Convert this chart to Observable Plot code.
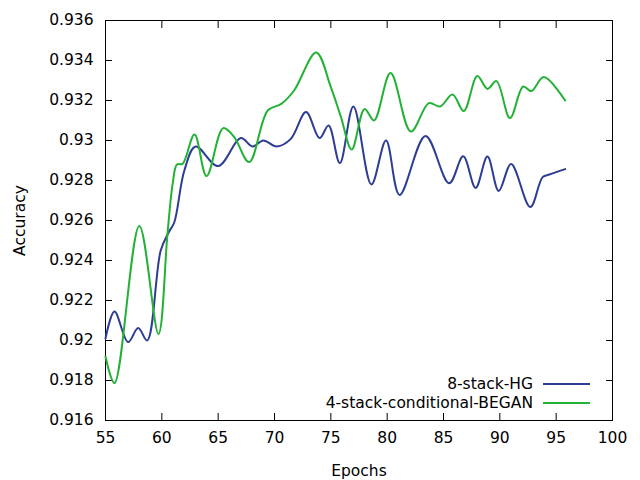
<!DOCTYPE html>
<html>
<head>
<meta charset="utf-8">
<script src="https://cdn.jsdelivr.net/npm/d3@7"></script>
<script src="https://cdn.jsdelivr.net/npm/@observablehq/plot@0.6"></script>
<style>
  body { margin: 0; background: #fff; }
  #wrap { position: relative; width: 640px; height: 480px; font-family: "DejaVu Sans", sans-serif; }
  .legend { position: absolute; right: 50px; font-size: 15.5px; display: flex; align-items: center; height: 19px; }
  .legend span.sw { display: inline-block; width: 47px; height: 2px; margin-left: 10px; }
</style>
</head>
<body>
<div id="wrap"></div>
<script>
const seriesNames = ["8-stack-HG", "4-stack-conditional-BEGAN"];
const seriesColors = ["#2e3d94", "#23b136"];

const epochsHG = [55.0, 55.8, 57.0, 57.9, 58.7, 59.9, 60.6, 61.1, 62.0, 63.0, 65.0, 67.0, 68.05, 69.0, 70.2, 71.45, 72.8, 74.0, 74.8, 75.8, 77.0, 78.6, 79.9, 81.1, 83.4, 85.5, 86.75, 87.85, 88.9, 89.9, 91.0, 92.7, 93.8, 94.4, 95.8];
const accHG = [0.9201, 0.92145, 0.91992, 0.92062, 0.9200, 0.9245, 0.9254, 0.9259, 0.9285, 0.9297, 0.92872, 0.93012, 0.9297, 0.9300, 0.9297, 0.93008, 0.93142, 0.93012, 0.93075, 0.92887, 0.9317, 0.9278, 0.9300, 0.92728, 0.93023, 0.92786, 0.92921, 0.92763, 0.9292, 0.92748, 0.92882, 0.92667, 0.92817, 0.92830, 0.92857];

const epochsBEGAN = [55.0, 55.8, 58.0, 59.7, 60.5, 60.96, 61.34, 61.84, 62.9, 63.97, 65.45, 66.42, 67.75, 69.4, 70.6, 71.74, 73.7, 75.0, 75.9, 76.85, 78.0, 78.83, 80.3, 82.1, 83.7, 84.7, 85.8, 86.8, 88.0, 88.9, 89.7, 90.9, 92.07, 92.8, 93.9, 95.8];
const accBEGAN = [0.9192, 0.91787, 0.92572, 0.92033, 0.92533, 0.92783, 0.9288, 0.92883, 0.9303, 0.92822, 0.93062, 0.93017, 0.92892, 0.9315, 0.93183, 0.9325, 0.9344, 0.93267, 0.93117, 0.92955, 0.93158, 0.9310, 0.93337, 0.93045, 0.93187, 0.9317, 0.9323, 0.93147, 0.93322, 0.93258, 0.93297, 0.93112, 0.9327, 0.93247, 0.93317, 0.9320];

const xTicks = [55, 60, 65, 70, 75, 80, 85, 90, 95, 100];
const xTickLabels = ["55", "60", "65", "70", "75", "80", "85", "90", "95", "100"];
const yTicks = [0.916, 0.918, 0.920, 0.922, 0.924, 0.926, 0.928, 0.930, 0.932, 0.934, 0.936];
const yTickLabels = ["0.916", "0.918", "0.92", "0.922", "0.924", "0.926", "0.928", "0.93", "0.932", "0.934", "0.936"];

const hg = epochsHG.map((e, i) => ({epoch: e, acc: accHG[i]}));
const began = epochsBEGAN.map((e, i) => ({epoch: e, acc: accBEGAN[i]}));

const chart = Plot.plot({
  width: 640,
  height: 480,
  marginLeft: 105,
  marginRight: 28,
  marginTop: 20,
  marginBottom: 60,
  x: {domain: [55, 100]},
  y: {domain: [0.916, 0.936]},
  style: {fontFamily: "DejaVu Sans, sans-serif", fontSize: "15.5px", color: "#000", background: "#fff", overflow: "visible"},
  marks: [
    Plot.axisX({ticks: xTicks, tickFormat: (d, i) => xTickLabels[xTicks.indexOf(d)], tickSize: -7, tickPadding: 18, label: "Epochs", labelAnchor: "center", labelArrow: "none", labelOffset: 55}),
    Plot.axisX({anchor: "top", ticks: xTicks, tickSize: -7, text: null, label: null}),
    Plot.axisY({ticks: yTicks, tickFormat: (d) => yTickLabels[yTicks.findIndex(t => Math.abs(t - d) < 1e-9)], tickSize: -7, tickPadding: 19, label: "Accuracy", labelAnchor: "center", labelArrow: "none", labelOffset: 92}),
    Plot.axisY({anchor: "right", ticks: yTicks, tickSize: -7, text: null, label: null}),
    Plot.frame({stroke: "#000"}),
    Plot.line(hg, {x: "epoch", y: "acc", stroke: seriesColors[0], strokeWidth: 2, curve: "catmull-rom"}),
    Plot.line(began, {x: "epoch", y: "acc", stroke: seriesColors[1], strokeWidth: 2, curve: "catmull-rom"})
  ]
});
const wrap = document.getElementById("wrap");
wrap.appendChild(chart);

seriesNames.forEach((name, i) => {
  const row = document.createElement("div");
  row.className = "legend";
  row.style.top = (374 + i * 19.5) + "px";
  const t = document.createElement("span");
  t.textContent = name;
  const sw = document.createElement("span");
  sw.className = "sw";
  sw.style.background = seriesColors[i];
  row.appendChild(t);
  row.appendChild(sw);
  wrap.appendChild(row);
});
</script>
</body>
</html>
